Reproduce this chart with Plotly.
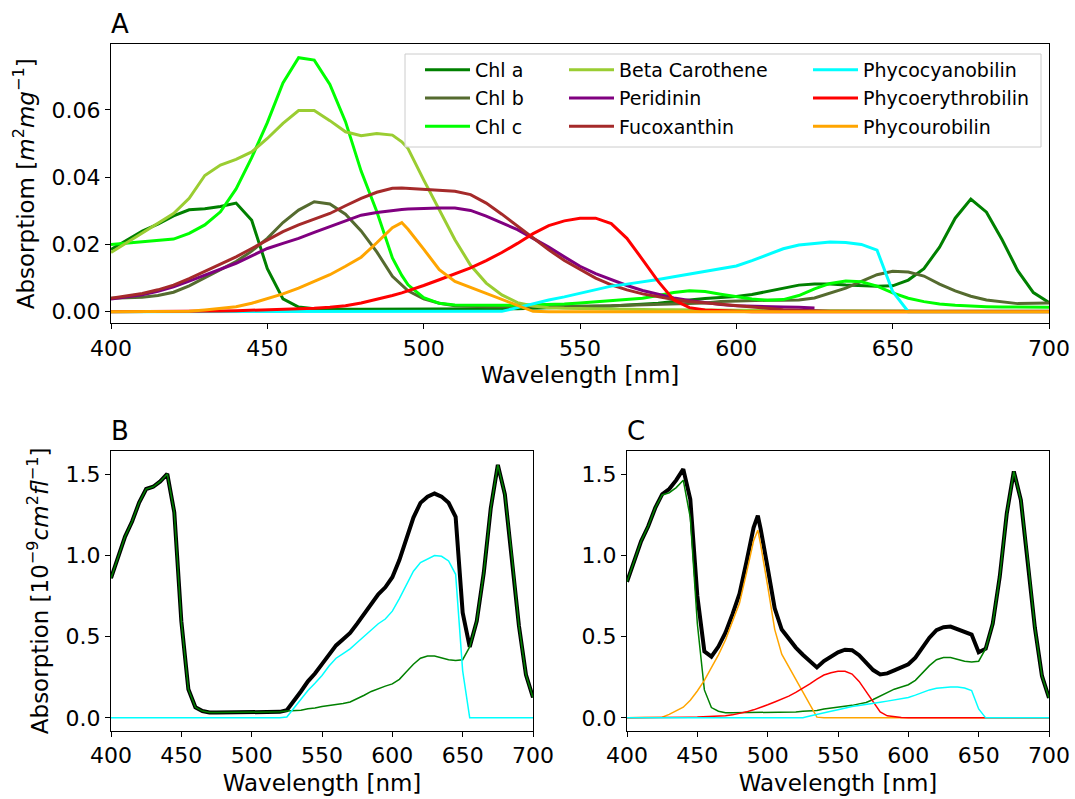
import plotly.graph_objects as go

# ---------------- data ----------------
wavelengths = [400, 405, 410, 415, 420, 425, 430, 435, 440, 445, 450, 455, 460, 465, 470, 475, 480, 485, 490, 493,
               495, 500, 505, 510, 515, 520, 525, 530, 535, 540, 545, 550, 555, 560, 565, 570, 575, 580, 585, 590,
               595, 600, 605, 610, 615, 620, 625, 630, 635, 640, 645, 650, 655, 660, 665, 670, 675, 680, 685, 690,
               695, 700]

chl_a = [0.0185, 0.0213, 0.0240, 0.0260, 0.0285, 0.0303, 0.0306, 0.0313, 0.0323, 0.0272, 0.0128, 0.0038, 0.0014,
         0.0009, 0.0007, 0.0007, 0.0007, 0.0007, 0.0007, 0.0007,
         0.0007, 0.0007, 0.0007, 0.0008, 0.0008, 0.0008, 0.0009, 0.0009, 0.0010, 0.0012,
         0.0013, 0.0015, 0.0016, 0.0017, 0.0019, 0.0021, 0.0025, 0.0030, 0.0035, 0.0039,
         0.0042, 0.0045, 0.0051, 0.0061, 0.0071, 0.0079, 0.0082, 0.0082, 0.0079, 0.0077,
         0.0076, 0.0077, 0.0094, 0.0128, 0.0192, 0.0278, 0.0335, 0.0296, 0.0214, 0.0122,
         0.0057, 0.0027]

chl_b = [0.0040, 0.0041, 0.0043, 0.0048, 0.0058, 0.0077, 0.0102, 0.0125, 0.0149, 0.0180, 0.0218, 0.0265, 0.0302,
         0.0327, 0.0320, 0.0290, 0.0240, 0.0178, 0.0105, 0.0078,
         0.0062, 0.0038, 0.0025, 0.0018, 0.0016, 0.0015, 0.0015, 0.0015, 0.0015, 0.0015,
         0.0016, 0.0016, 0.0017, 0.0018, 0.0019, 0.0020, 0.0021, 0.0022, 0.0024, 0.0026,
         0.0030, 0.0032, 0.0034, 0.0034, 0.0034, 0.0035, 0.0041, 0.0055, 0.0070, 0.0090,
         0.0110, 0.0120, 0.0118, 0.0106, 0.0082, 0.0062, 0.0046, 0.0035, 0.0029, 0.0024,
         0.0025, 0.0026]

chl_c = [0.0200, 0.0204, 0.0208, 0.0211, 0.0216, 0.0233, 0.0258, 0.0297, 0.0365, 0.0458, 0.0562, 0.0680, 0.0755,
         0.0748, 0.0676, 0.0565, 0.0418, 0.0298, 0.0160, 0.0108,
         0.0080, 0.0042, 0.0025, 0.0020, 0.0019, 0.0019, 0.0019, 0.0019, 0.0020, 0.0021,
         0.0023, 0.0026, 0.0030, 0.0034, 0.0037, 0.0040, 0.0048, 0.0057, 0.0062, 0.0060,
         0.0052, 0.0045, 0.0038, 0.0034, 0.0036, 0.0048, 0.0068, 0.0084, 0.0091, 0.0089,
         0.0076, 0.0056, 0.0040, 0.0030, 0.0023, 0.0019, 0.0016, 0.0015, 0.0014, 0.0014,
         0.0013, 0.0013]

beta_carotene = [0.0176, 0.0205, 0.0233, 0.0262, 0.0292, 0.0337, 0.0405, 0.0436, 0.0453, 0.0475, 0.0515, 0.0560,
                 0.0598, 0.0598, 0.0568, 0.0535, 0.0523, 0.0530, 0.0525, 0.0505,
                 0.0485, 0.0392, 0.0305, 0.0214, 0.0138, 0.0085, 0.0050, 0.0027, 0.0017, 0.0012,
                 0.0010, 0.0009, 0.0008, 0.0008, 0.0007, 0.0007, 0.0006, 0.0006, 0.0005, 0.0005,
                 0.0005, 0.0004, 0.0004, 0.0004, 0.0003, 0.0003, 0.0003, 0.0003, 0.0002, 0.0002,
                 0.0002, 0.0002, 0.0002, 0.0001, 0.0001, 0.0001, 0.0001, 0.0001, 0.0001, 0.0001,
                 0.0001, 0.0001]

peridinin = [0.0038, 0.0044, 0.0050, 0.0061, 0.0074, 0.0091, 0.0109, 0.0126, 0.0144, 0.0166, 0.0188, 0.0203,
             0.0218, 0.0236, 0.0253, 0.0270, 0.0287, 0.0295, 0.0302, 0.0304,
             0.0305, 0.0307, 0.0308, 0.0308, 0.0301, 0.0284, 0.0265, 0.0244, 0.0218, 0.0192,
             0.0163, 0.0135, 0.0113, 0.0095, 0.0078, 0.0063, 0.0052, 0.0041, 0.0033, 0.0026,
             0.0021, 0.0018, 0.0016, 0.0015, 0.0014, 0.0013, 0.0011, None, None, None,
             None, None, None, None, None, None, None, None, None, None,
             None, None]

fucoxanthin = [0.0040, 0.0046, 0.0054, 0.0065, 0.0079, 0.0098, 0.0119, 0.0140, 0.0163, 0.0188, 0.0213, 0.0238,
               0.0258, 0.0275, 0.0292, 0.0315, 0.0337, 0.0355, 0.0367, 0.0368,
               0.0367, 0.0364, 0.0362, 0.0358, 0.0348, 0.0323, 0.0290, 0.0254, 0.0218, 0.0184,
               0.0152, 0.0125, 0.0100, 0.0080, 0.0065, 0.0053, 0.0044, 0.0036, 0.0030, 0.0026,
               0.0021, 0.0016, 0.0012, 0.0009, 0.0006, 0.0004, 0.0002, 0.0001, 0.0001, 0.0001,
               0.0001, 0.0001, 0.0001, 0.0001, 0.0001, 0.0001, 0.0001, 0.0001, 0.0001, 0.0001,
               0.0001, 0.0001]

phycocyanobilin = [0, 0, 0, 0, 0, 0, 0, 0, 0, 0, 0, 0, 0, 0, 0, 0, 0, 0, 0, 0,
                   0, 0, 0, 0, 0, 0, 0.0001, 0.0012, 0.0024, 0.0035,
                   0.0044, 0.0054, 0.0066, 0.0076, 0.0082, 0.0088, 0.0096, 0.0104, 0.0112, 0.0120,
                   0.0126, 0.0136, 0.0152, 0.0170, 0.0187, 0.0198, 0.0203, 0.0207, 0.0206, 0.0200,
                   0.0183, 0.0060, 0, 0, 0, 0, 0, 0, 0, 0,
                   0, 0]

phycoerythrobilin = [0, 0, 0, 0, 0, 0, 0.0001, 0.0002, 0.0003, 0.0004, 0.0005, 0.0006, 0.0008, 0.0010, 0.0013,
                     0.0018, 0.0026, 0.0036, 0.0048, 0.0056,
                     0.0062, 0.0078, 0.0095, 0.0112, 0.0130, 0.0152, 0.0176, 0.0203, 0.0232, 0.0256,
                     0.0270, 0.0278, 0.0278, 0.0262, 0.0218, 0.0155, 0.0090, 0.0035, 0.0012, 0.0005,
                     0.0002, 0.0001, 0, 0, 0, 0, 0, 0, 0, 0,
                     0, 0, 0, 0, 0, 0, 0, 0, 0, 0,
                     0, 0]

phycourobilin = [0, 0, 0, 0, 0, 0.0001, 0.0005, 0.0010, 0.0015, 0.0025, 0.0038, 0.0053, 0.0070, 0.0089, 0.0110,
                 0.0135, 0.0162, 0.0205, 0.0250, 0.0265,
                 0.0245, 0.0186, 0.0125, 0.0090, 0.0072, 0.0055, 0.0038, 0.0020, 0.0001, 0,
                 0, 0, 0, 0, 0, 0, 0, 0, 0, 0,
                 0, 0, 0, 0, 0, 0, 0, 0, 0, 0,
                 0, 0, 0, 0, 0, 0, 0, 0, 0, 0,
                 0, 0]

pigment_names = ["Chl a", "Chl b", "Chl c", "Beta Carothene", "Peridinin", "Fucoxanthin",
                 "Phycocyanobilin", "Phycoerythrobilin", "Phycourobilin"]
pigment_colors = ["#008000", "#556B2F", "#00FF00", "#9ACD32", "#800080", "#A52A2A",
                  "#00FFFF", "#FF0000", "#FFA500"]
pigment_values = [chl_a, chl_b, chl_c, beta_carotene, peridinin, fucoxanthin,
                  phycocyanobilin, phycoerythrobilin, phycourobilin]

cell_b = {"Chl a": 46.5, "Phycocyanobilin": 48.3}
cell_c = {"Chl a": 45.3, "Phycourobilin": 43.6, "Phycoerythrobilin": 10.3, "Phycocyanobilin": 9.2}

x_ticks = [400, 450, 500, 550, 600, 650, 700]
ya_ticks = [0.0, 0.02, 0.04, 0.06]
ybc_ticks = [0.0, 0.5, 1.0, 1.5]

for v in pigment_values:
    if len(v) != len(wavelengths):
        raise ValueError("length mismatch %d" % len(v))

# ---------------- figure ----------------
W, H = 1075, 799
FONT = "DejaVu Sans"
fig = go.Figure()

legend_ids = ["legend", "legend", "legend", "legend2", "legend2", "legend2", "legend3", "legend3", "legend3"]
for name, col, vals, lg in zip(pigment_names, pigment_colors, pigment_values, legend_ids):
    fig.add_trace(go.Scatter(x=wavelengths, y=vals, mode="lines", name=name,
                             line=dict(color=col, width=3), legend=lg, legendgroup=name,
                             xaxis="x", yaxis="y"))

lookup = dict(zip(pigment_names, pigment_values))
colmap = dict(zip(pigment_names, pigment_colors))


def add_cell(cell, xa, ya):
    comps = []
    for nm, s in cell.items():
        comps.append((nm, [0 if v is None else v * s for v in lookup[nm]]))
    total = [sum(c[1][i] for c in comps) for i in range(len(wavelengths))]
    fig.add_trace(go.Scatter(x=wavelengths, y=total, mode="lines", line=dict(color="black", width=4),
                             showlegend=False, xaxis=xa, yaxis=ya))
    for nm, vals in comps:
        fig.add_trace(go.Scatter(x=wavelengths, y=vals, mode="lines", line=dict(color=colmap[nm], width=1.5),
                                 showlegend=False, xaxis=xa, yaxis=ya))


add_cell(cell_b, "x2", "y2")
add_cell(cell_c, "x3", "y3")


def px_x(p):
    return p / W


def px_y(p):
    return 1 - p / H


common_axis = dict(showline=True, linecolor="black", linewidth=1.1, mirror=True, ticks="outside",
                   ticklen=5, tickwidth=1.1, tickcolor="black", showgrid=False, zeroline=False,
                   automargin=False, tickfont=dict(family=FONT, size=22, color="black"))

xlab = dict(text="Wavelength [nm]", font=dict(family=FONT, size=23, color="black"), standoff=7)

fig.update_layout(
    width=W, height=H, margin=dict(l=0, r=0, t=0, b=0, autoexpand=False), autosize=False,
    paper_bgcolor="white", plot_bgcolor="white",
    font=dict(family=FONT, color="black"),
    xaxis=dict(common_axis, domain=[px_x(111), px_x(1049)], range=[400, 700], tickvals=x_ticks,
               anchor="y", title=xlab),
    yaxis=dict(common_axis, domain=[px_y(323.3), px_y(44.3)], range=[-0.00345, 0.0795], tickvals=ya_ticks,
               tickformat=".2f", anchor="x",
               title=dict(text="Absorptiom [<i>m</i><sup>2</sup><i>mg</i><sup>−1</sup>]",
                          font=dict(family=FONT, size=23, color="black"), standoff=10)),
    xaxis2=dict(common_axis, domain=[px_x(111), px_x(533)], range=[400, 700], tickvals=x_ticks,
                anchor="y2", title=xlab),
    yaxis2=dict(common_axis, domain=[px_y(730.7), px_y(451)], range=[-0.079, 1.643], tickvals=ybc_ticks,
                tickformat=".1f", anchor="x2",
                title=dict(text="Absorption [10<sup>−9</sup><i>cm</i><sup>2</sup><i>fl</i><sup>−1</sup>]",
                           font=dict(family=FONT, size=23, color="black"), standoff=10)),
    xaxis3=dict(common_axis, domain=[px_x(627), px_x(1049)], range=[400, 700], tickvals=x_ticks,
                anchor="y3", title=xlab),
    yaxis3=dict(common_axis, domain=[px_y(730.7), px_y(451)], range=[-0.079, 1.643], tickvals=ybc_ticks,
                tickformat=".1f", anchor="x3"),
)

leg_common = dict(font=dict(family=FONT, size=19, color="black"), bgcolor="rgba(0,0,0,0)", borderwidth=0,
                  xanchor="left", yanchor="top", traceorder="grouped", tracegroupgap=0.5, itemwidth=45)
fig.update_layout(
    legend=dict(leg_common, x=px_x(420), y=px_y(51)),
    legend2=dict(leg_common, x=px_x(564), y=px_y(51)),
    legend3=dict(leg_common, x=px_x(808), y=px_y(51)),
)

fig.add_shape(type="rect", xref="paper", yref="paper", x0=px_x(405), x1=px_x(1041), y0=px_y(147), y1=px_y(54),
              line=dict(color="#cccccc", width=1), fillcolor="rgba(255,255,255,0.8)", layer="above")

for lab, xd, yd in [("A", "x domain", "y domain"), ("B", "x2 domain", "y2 domain"), ("C", "x3 domain", "y3 domain")]:
    fig.add_annotation(text=lab, xref=xd, yref=yd, x=0, y=1, xanchor="left", yanchor="bottom",
                       yshift=3, xshift=-2, showarrow=False, font=dict(family=FONT, size=26, color="black"))

fig.write_html("out.html", config={"displayModeBar": False},
               post_script="document.body.style.margin='0px';document.body.style.overflow='hidden';")
